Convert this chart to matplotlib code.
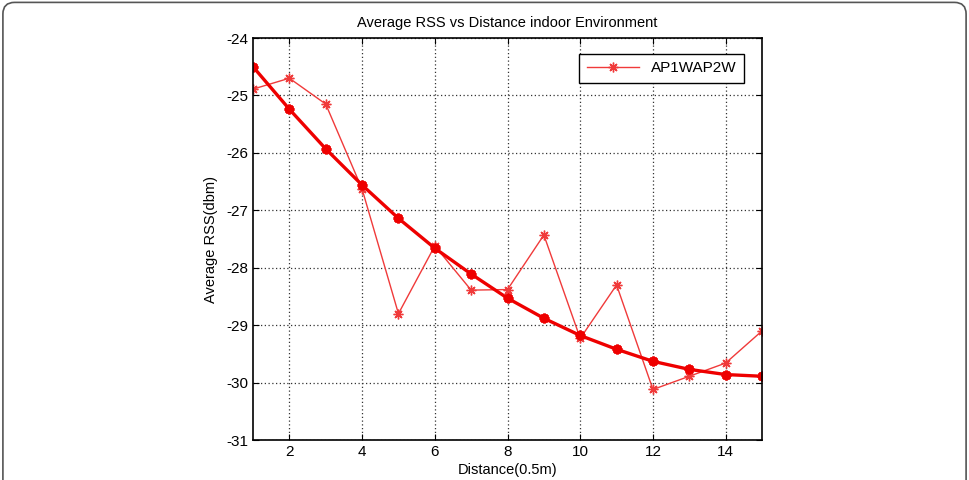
import matplotlib.pyplot as plt
from matplotlib.patches import FancyBboxPatch

plt.rcParams['font.family'] = ['Liberation Sans', 'DejaVu Sans']

# Data
distance = [1, 2, 3, 4, 5, 6, 7, 8, 9, 10, 11, 12, 13, 14, 15]
rss_measured = [-24.89, -24.70, -25.15, -26.63, -28.80, -27.62, -28.39, -28.38,
                -27.43, -29.23, -28.30, -30.12, -29.89, -29.66, -29.10]
rss_fit = [-24.50, -25.24, -25.93, -26.56, -27.14, -27.66, -28.11, -28.53,
           -28.88, -29.18, -29.42, -29.63, -29.77, -29.86, -29.89]
x_ticks = [2, 4, 6, 8, 10, 12, 14]
y_ticks = [-31, -30, -29, -28, -27, -26, -25, -24]

fig = plt.figure(figsize=(9.69, 4.8), dpi=100)
ax = fig.add_axes([0.2611, 0.0833, 0.5253, 0.8375])

# rounded frame around the whole figure
frame = FancyBboxPatch((0.003, -0.05), 0.994, 1.045, boxstyle="round,pad=0,rounding_size=0.012",
                       transform=fig.transFigure, fill=False, edgecolor='#555555', linewidth=1.2,
                       mutation_aspect=2.0)
fig.patches.append(frame)

star = (8, 2, 0)
ax.plot(distance, rss_measured, color='#f03a3a', linewidth=1.0, marker=star,
        markersize=7, markeredgewidth=1.0, label='AP1WAP2W')
ax.plot(distance, rss_fit, color='#ee0000', linewidth=2.4, marker=star,
        markersize=7, markeredgewidth=2.0)

ax.set_xlim(1, 15)
ax.set_ylim(-31, -24)
ax.set_xticks(x_ticks)
ax.set_yticks(y_ticks)
ax.set_yticklabels([str(v) for v in y_ticks])

ax.grid(True, linestyle=(0, (1, 2)), color='#333333', linewidth=0.9)
ax.tick_params(direction='in', top=True, right=True, labelsize=11, length=4)
for s in ax.spines.values():
    s.set_linewidth(1.2)

ax.set_title('Average RSS vs Distance indoor Environment', fontsize=10.5, pad=8)
ax.set_xlabel('Distance(0.5m)', fontsize=10.5, labelpad=3)
ax.set_ylabel('Average RSS(dbm)', fontsize=10.5, labelpad=6)

leg = ax.legend(loc='upper right', fontsize=11, fancybox=False, framealpha=1,
                edgecolor='black', handlelength=3.4, borderpad=0.5,
                bbox_to_anchor=(0.98, 0.98))
leg.get_frame().set_linewidth(1.0)

fig.savefig('out.png', dpi=100)
